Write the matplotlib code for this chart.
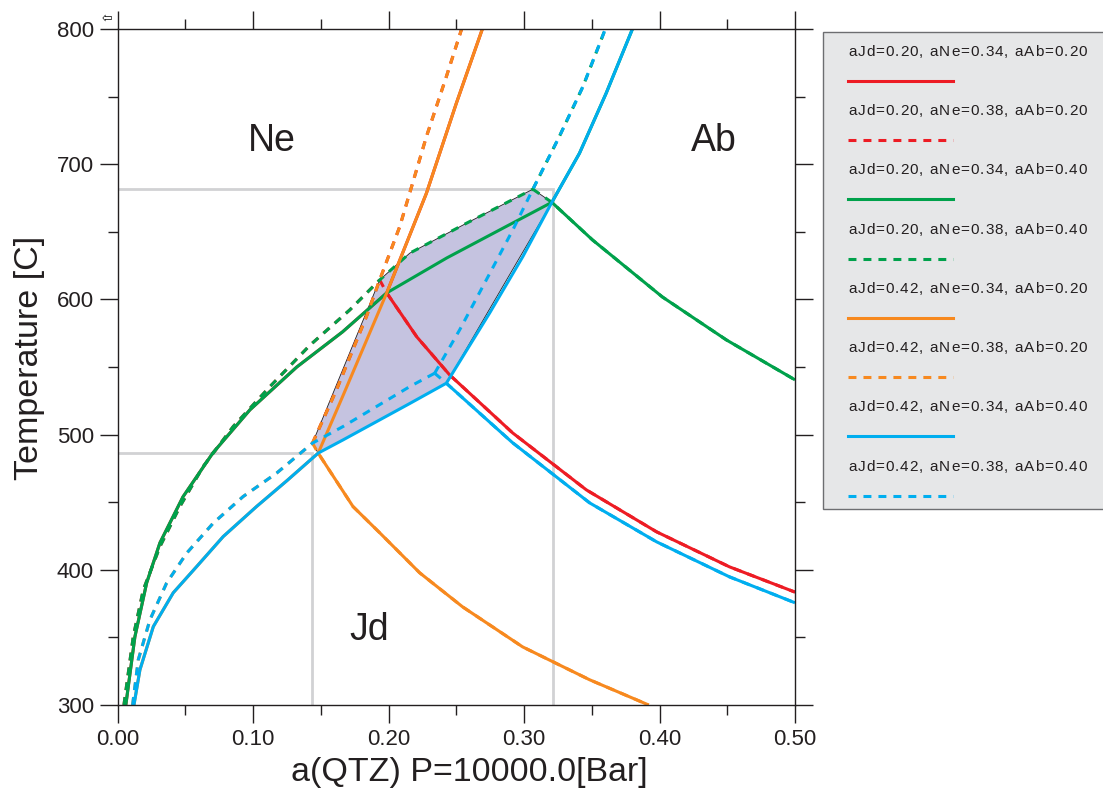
import matplotlib
matplotlib.use("Agg")
import matplotlib.pyplot as plt
from matplotlib.font_manager import FontProperties
from matplotlib.lines import Line2D
from matplotlib.patches import Polygon, Rectangle

plt.rcParams["font.family"] = ["Liberation Sans", "DejaVu Sans"]

# Ne + Qtz = Jd, a(QTZ) vs T [C]
nejd_a_x = [0.006, 0.0127, 0.0214, 0.0312, 0.0482, 0.0703, 0.0976, 0.1322, 0.166, 0.1986, 0.243, 0.282, 0.3205]
nejd_a_t = [300, 350.5, 390.4, 420, 454, 486.5, 518.3, 550, 576, 604.8, 630.7, 651.4, 671.8]
nejd_b_x = [0.0046, 0.0115, 0.0189, 0.0312, 0.0459, 0.0631, 0.0853, 0.1124, 0.1418, 0.1713, 0.1934, 0.2156, 0.2574, 0.3065]
nejd_b_t = [300, 350.7, 385.2, 417.2, 446.8, 476.4, 506, 535.5, 566, 592.2, 614.4, 634.2, 656.3, 681.5]
nejd_c_x = [0.012, 0.0164, 0.0263, 0.041, 0.0583, 0.0779, 0.1025, 0.125, 0.148, 0.1664, 0.2156, 0.2426]
nejd_c_t = [300, 326, 358, 383, 402.4, 424.6, 446.8, 466, 486.3, 496.1, 523, 538]
nejd_d_x = [0.011, 0.0152, 0.0238, 0.0361, 0.0509, 0.0705, 0.0926, 0.1173, 0.1438, 0.1664, 0.2156, 0.234]
nejd_d_t = [300, 333.5, 363, 390.2, 412.3, 434.5, 454.2, 471.5, 493.7, 506, 535.5, 545.4]

# Jd + Qtz = Ab
jdab_a_x = [0.1934, 0.1986, 0.2208, 0.245, 0.2915, 0.346, 0.3978, 0.4516, 0.5]
jdab_a_t = [614.4, 604.8, 572.3, 544.2, 501.3, 459.1, 428.1, 402.2, 383.5]
jdab_b_x = [0.3065, 0.3205, 0.3505, 0.4021, 0.4494, 0.5]
jdab_b_t = [681.5, 671.8, 644, 601.8, 570, 540.5]
jdab_c_x = [0.1438, 0.148, 0.1737, 0.1934, 0.2229, 0.2546, 0.2989, 0.3483, 0.392]
jdab_c_t = [493.7, 486.3, 446.8, 427.4, 397.8, 372.6, 343, 318.7, 300]
jdab_d_x = [0.234, 0.2426, 0.2915, 0.3484, 0.3978, 0.4516, 0.5]
jdab_d_t = [545.4, 538, 494, 449.5, 420.7, 394.8, 375.6]

# Ne + 2Qtz = Ab
neab_a_x = [0.148, 0.1664, 0.1986, 0.2279, 0.25, 0.2692]
neab_a_t = [486.3, 529, 604.8, 678.5, 745.1, 800]
neab_b_x = [0.1438, 0.1615, 0.1836, 0.1934, 0.2082, 0.2279, 0.2426, 0.2539]
neab_b_t = [493.7, 533.1, 587.3, 614.4, 653.8, 720.4, 764.7, 800]
neab_c_x = [0.2426, 0.2745, 0.2991, 0.3205, 0.3409, 0.3606, 0.38]
neab_c_t = [538, 589.8, 631.7, 671.8, 708.1, 752.5, 800]
neab_d_x = [0.234, 0.2524, 0.2721, 0.2917, 0.3065, 0.326, 0.3434, 0.36]
neab_d_t = [545.4, 577.4, 614.4, 651.4, 681.5, 720.4, 757.3, 800]

labels = [
    "aJd=0.20, aNe=0.34, aAb=0.20",
    "aJd=0.20, aNe=0.38, aAb=0.20",
    "aJd=0.20, aNe=0.34, aAb=0.40",
    "aJd=0.20, aNe=0.38, aAb=0.40",
    "aJd=0.42, aNe=0.34, aAb=0.20",
    "aJd=0.42, aNe=0.38, aAb=0.20",
    "aJd=0.42, aNe=0.34, aAb=0.40",
    "aJd=0.42, aNe=0.38, aAb=0.40",
]

# range guides (a(QTZ), T)
guide_x = [0.1435, 0.3213]
guide_t = [486.3, 681.5]

fields = ["Ne", "Ab", "Jd"]
field_x = [0.114, 0.44, 0.186]
field_t = [717, 717, 355.6]

RED = "#ed1c24"
GREEN = "#00a14b"
ORANGE = "#f7891f"
BLUE = "#00aeef"
INK = "#231f20"
DASH = (0, (2.6, 2.3))

nejd_a = (nejd_a_x, nejd_a_t)
nejd_b = (nejd_b_x, nejd_b_t)
nejd_c = (nejd_c_x, nejd_c_t)
nejd_d = (nejd_d_x, nejd_d_t)
jdab_a = (jdab_a_x, jdab_a_t)
jdab_b = (jdab_b_x, jdab_b_t)
jdab_c = (jdab_c_x, jdab_c_t)
jdab_d = (jdab_d_x, jdab_d_t)
neab_a = (neab_a_x, neab_a_t)
neab_b = (neab_b_x, neab_b_t)
neab_c = (neab_c_x, neab_c_t)
neab_d = (neab_d_x, neab_d_t)

# each series: three branches meeting at its triple point
series = [
    (RED, "-", [(nejd_a, 0, 10), (jdab_a, 1, None), (neab_a, 2, None)]),
    (RED, DASH, [(nejd_b, 0, 11), (jdab_a, 0, None), (neab_b, 0, None)]),
    (GREEN, "-", [(nejd_a, 0, None), (jdab_b, 1, None), (neab_c, 3, None)]),
    (GREEN, DASH, [(nejd_b, 0, None), (jdab_b, 0, None), (neab_d, 4, None)]),
    (ORANGE, "-", [(nejd_c, 0, 9), (jdab_c, 1, None), (neab_a, 0, None)]),
    (ORANGE, DASH, [(nejd_d, 0, 9), (jdab_c, 0, None), (neab_b, 0, None)]),
    (BLUE, "-", [(nejd_c, 0, None), (jdab_d, 1, None), (neab_c, 0, None)]),
    (BLUE, DASH, [(nejd_d, 0, None), (jdab_d, 0, None), (neab_d, 0, None)]),
]

W, H = 1103, 789
fig = plt.figure(figsize=(W / 100, H / 100), dpi=100)
ax = fig.add_axes([117.7 / W, 84 / H, 677.3 / W, 676 / H])

# shaded overlap field
poly_x = nejd_b_x[10:] + [jdab_b_x[1]] + nejd_c_x[8:][::-1] + [nejd_d_x[8]]
poly_t = nejd_b_t[10:] + [jdab_b_t[1]] + nejd_c_t[8:][::-1] + [nejd_d_t[8]]
ax.add_patch(Polygon(list(zip(poly_x, poly_t)), closed=True, facecolor="#c5c3e0",
                     edgecolor=INK, linewidth=0.6, zorder=1))

for gx, gt in zip(guide_x, guide_t):
    ax.plot([0, gx, gx], [gt, gt, 300], color="#d1d2d4", lw=2.0, zorder=0.5,
            solid_joinstyle="miter")

for color, ls, segs in series:
    for (cx, ct), i0, i1 in segs:
        ax.plot(cx[i0:i1], ct[i0:i1], color=color, linestyle=ls, lw=2.2,
                zorder=2, solid_capstyle="butt", dash_capstyle="butt")

for name, fx, ft in zip(fields, field_x, field_t):
    ax.text(fx, ft, name, fontsize=27, color=INK, ha="center", va="center")

ax.set_xlim(0, 0.5)
ax.set_ylim(300, 800)
ax.set_xticks([0, 0.1, 0.2, 0.3, 0.4, 0.5])
ax.set_xticklabels(["0.00", "0.10", "0.20", "0.30", "0.40", "0.50"])
ax.set_xticks([0.05, 0.15, 0.25, 0.35, 0.45], minor=True)
ax.set_yticks([300, 400, 500, 600, 700, 800])
ax.set_yticks([350, 450, 550, 650, 750], minor=True)
ax.tick_params(which="both", direction="out", top=True, right=True,
               labeltop=False, labelright=False, width=1.0, colors=INK,
               labelsize=16, pad=4)
ax.tick_params(which="major", length=13)
ax.tick_params(which="minor", length=7)
for sp in ax.spines.values():
    sp.set_linewidth(1.0)
    sp.set_color(INK)
ax.set_xlabel("a(QTZ) P=10000.0[Bar]", fontsize=24.5, color=INK)
ax.set_ylabel("Temperature [C]", fontsize=24.5, color=INK)
ax.xaxis.set_label_coords(0.519, -0.077)
ax.yaxis.set_label_coords(-0.107, 0.513)

# legend panel: label text above a line sample
fig.add_artist(Rectangle((823 / W, 1 - 508.5 / H), 300 / W, 477 / H,
                         transform=fig.transFigure, facecolor="#e6e7e8",
                         edgecolor="#6d6e71", linewidth=1.0))

renderer = fig.canvas.get_renderer()
prop = FontProperties(family="Liberation Sans", size=11)
track = 1.0  # extra letter spacing in px, the legend text is slightly spaced out


def spaced_text(x_px, y_px, s):
    for k, ch in enumerate(s):
        if ch == " ":
            continue
        w = renderer.get_text_width_height_descent(s[:k], prop, ismath=False)[0] if k else 0
        fig.text((x_px + w + k * track) / W, 1 - y_px / H, ch, fontproperties=prop,
                 color=INK, va="center", ha="left")


for i, (label, (color, ls, _)) in enumerate(zip(labels, series)):
    spaced_text(848, 51.7 + 59.3 * i, label)
    ly = 1 - (80.7 + 59.3 * i) / H
    fig.add_artist(Line2D([848 / W, 953 / W], [ly, ly], transform=fig.transFigure,
                          color=color, linestyle=ls, lw=2.2, dash_capstyle="butt"))

fig.text(107 / W, 1 - 18 / H, "\u21e6", fontsize=9, family="DejaVu Sans",
         ha="center", va="center")

fig.savefig("out.png", dpi=100)
